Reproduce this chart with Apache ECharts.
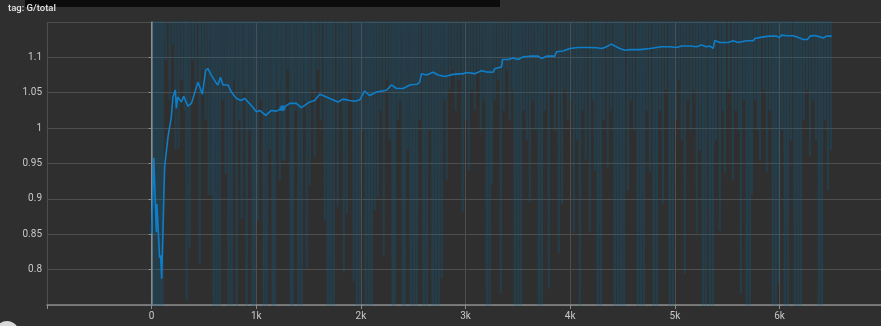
<!DOCTYPE html>
<html><head><meta charset="utf-8">
<script src="https://cdn.jsdelivr.net/npm/echarts@6/dist/echarts.min.js"></script>
<style>html,body{margin:0;padding:0;background:#2f2f2f;overflow:hidden}#c{width:881px;height:326px}</style>
</head><body><div id="c"></div>
<script>
const titleText = 'tag: G/total';
const yTicks = [0.8, 0.85, 0.9, 0.95, 1, 1.05, 1.1];
const xTickLabels = ['0', '1k', '2k', '3k', '4k', '5k', '6k'];

// smoothed curve
const smoothSteps = [0,21,45,50,76,86,96,124,156,188,204,226,236,249,284,306,347,380,443,485,516,539,570,612,634,657,682,730,762,810,858,889,953,1001,1033,1090,1144,1192,1250,1319,1383,1431,1510,1558,1606,1654,1702,1781,1829,1893,1941,1989,2036,2084,2148,2244,2292,2340,2403,2467,2537,2562,2578,2626,2690,2738,2801,2881,2977,3008,3088,3152,3200,3263,3279,3343,3353,3407,3455,3503,3550,3614,3693,3726,3774,3853,3869,3932,3996,4076,4171,4252,4300,4331,4394,4426,4474,4522,4570,4665,4681,4761,4809,4873,4952,5016,5064,5143,5207,5255,5303,5335,5366,5382,5430,5510,5557,5605,5637,5685,5749,5765,5845,5908,5972,5997,6020,6068,6131,6180,6227,6266,6291,6339,6386,6418,6450,6498];
const smoothValues = [0.851,0.958,0.853,0.893,0.817,0.82,0.787,0.945,0.987,1.016,1.044,1.054,1.028,1.044,1.037,1.045,1.031,1.035,1.065,1.048,1.082,1.084,1.075,1.065,1.061,1.072,1.061,1.061,1.051,1.042,1.039,1.042,1.032,1.023,1.025,1.018,1.025,1.024,1.028,1.035,1.035,1.029,1.037,1.039,1.048,1.045,1.042,1.037,1.041,1.039,1.038,1.04,1.0525,1.046,1.051,1.0535,1.061,1.056,1.056,1.061,1.062,1.065,1.077,1.075,1.079,1.075,1.073,1.076,1.077,1.0786,1.077,1.081,1.0795,1.079,1.084,1.0866,1.097,1.097,1.099,1.097,1.1007,1.1017,1.1017,1.0985,1.1017,1.1017,1.108,1.109,1.1126,1.114,1.114,1.1135,1.1126,1.114,1.1187,1.116,1.1126,1.11,1.111,1.111,1.1126,1.1126,1.1135,1.115,1.115,1.114,1.116,1.116,1.115,1.1174,1.115,1.116,1.1126,1.124,1.121,1.121,1.1234,1.121,1.122,1.1234,1.1234,1.1268,1.129,1.13,1.13,1.128,1.1315,1.1305,1.1305,1.128,1.1253,1.1253,1.13,1.131,1.129,1.1275,1.13,1.13];

// hovered point
const hoverPoint = [1250, 1.028];

// raw (unsmoothed) values: [step, value]; peaks lie far above the visible range
const rawPoints = [[10,.6],[24,3],[29,.6],[43,3],[48,.6],[62,3],[67,.6],[81,3],[86,.6],[100,3],[105,.6],[119,3],
[134,1.096],[148,3],[172,1.039],[186,3],[201,1.117],[215,3],[229,.969],[243,3],[258,.971],[272,3],
[287,1.068],[301,3],[315,1.025],[325,3],[335,.756],[349,3],[363,.83],[377,3],[392,1.096],[406,3],
[421,1.054],[435,3],[459,.808],[473,3],[488,1.082],[502,3],[516,1.011],[530,3],[545,.905],[559,3],
[574,.905],[584,3],[593,.6],[607,3],[621,.6],[635,3],[650,.6],[664,3],[679,1.039],[693,3],
[707,.936],[721,3],[736,.6],[750,3],[765,.6],[775,3],[784,1.068],[798,3],[813,.6],[827,3],
[841,1.011],[851,3],[860,.872],[874,3],[889,1.054],[899,3],[908,.6],[922,3],[937,.997],[951,3],
[966,.6],[976,3],[985,.6],[999,3],[1013,.869],[1027,3],[1042,1.039],[1056,3],[1071,.6],[1085,3],
[1099,.6],[1113,3],[1128,.969],[1142,3],[1157,.6],[1167,3],[1176,.6],[1190,3],[1205,1.054],[1215,3],
[1224,.926],[1238,3],[1252,.954],[1262,3],[1271,.954],[1285,3],[1300,1.082],[1314,3],[1329,.6],[1339,3],
[1348,.6],[1362,3],[1377,1.025],[1391,3],[1405,.6],[1419,3],[1434,.6],[1448,3],[1463,1.039],[1473,3],
[1482,.801],[1496,3],[1510,.919],[1524,3],[1539,1.054],[1549,3],[1558,.959],[1572,3],[1587,1.082],[1601,3],
[1616,1.011],[1630,3],[1654,.869],[1668,3],[1683,.6],[1697,3],[1711,.6],[1725,3],[1740,.6],[1754,3],
[1778,.888],[1792,3],[1807,1.039],[1821,3],[1836,.796],[1850,3],[1864,.879],[1878,3],[1893,1.054],[1907,3],
[1931,.784],[1945,3],[1960,.6],[1974,3],[1988,.6],[2002,3],[2017,.997],[2031,3],[2046,.6],[2060,3],
[2075,.6],[2089,3],[2103,.6],[2117,3],[2132,.884],[2146,3],[2161,.902],[2175,3],[2189,1.025],[2203,3],
[2218,.82],[2232,3],[2247,1.068],[2261,3],[2275,.983],[2289,3],[2304,.6],[2314,3],[2323,.6],[2337,3],
[2352,1.011],[2362,3],[2371,1.039],[2385,3],[2400,.6],[2410,3],[2419,.6],[2433,3],[2447,.969],[2461,3],
[2476,.6],[2490,3],[2505,.6],[2519,3],[2533,.6],[2547,3],[2562,1.011],[2576,3],[2600,.6],[2614,3],
[2629,.6],[2643,3],[2658,.997],[2672,3],[2686,.6],[2700,3],[2715,.6],[2729,3],[2744,.6],[2758,3],
[2772,.789],[2786,3],[2801,1.039],[2811,3],[2820,.926],[2834,3],[2849,1.054],[2863,3],[2878,1.082],[2892,3],
[2906,1.025],[2920,3],[2935,1.068],[2949,3],[2973,.881],[2987,3],[3002,1.011],[3016,3],[3031,.94],[3045,3],
[3059,1.054],[3073,3],[3088,1.025],[3102,3],[3117,1.082],[3131,3],[3145,.997],[3159,3],[3174,1.039],[3188,3],
[3203,.6],[3217,3],[3231,.6],[3241,3],[3250,.922],[3264,3],[3279,1.039],[3293,3],[3308,1.068],[3322,3],
[3336,.766],[3350,3],[3365,1.025],[3379,3],[3394,1.082],[3408,3],[3422,1.011],[3436,3],[3451,1.054],[3461,3],
[3470,.6],[3484,3],[3499,.6],[3513,3],[3528,.6],[3542,3],[3556,1.025],[3570,3],[3585,.983],[3599,3],
[3614,.895],[3628,3],[3642,1.039],[3656,3],[3671,.997],[3685,3],[3700,.6],[3714,3],[3728,.6],[3742,3],
[3757,1.025],[3771,3],[3795,.773],[3809,3],[3824,1.054],[3838,3],[3853,.997],[3867,3],[3891,.823],[3905,3],
[3920,.893],[3934,3],[3948,1.054],[3962,3],[3977,1.011],[3991,3],[4006,1.039],[4020,3],[4034,.852],[4048,3],
[4063,.983],[4077,3],[4092,.6],[4106,3],[4120,1.025],[4134,3],[4149,.954],[4163,3],[4187,.852],[4201,3],
[4216,1.039],[4226,3],[4235,.94],[4249,3],[4264,.6],[4278,3],[4292,.6],[4306,3],[4321,1.011],[4335,3],
[4359,.944],[4373,3],[4388,1.025],[4402,3],[4426,.6],[4440,3],[4455,.6],[4469,3],[4484,.6],[4498,3],
[4512,.6],[4526,3],[4551,.912],[4565,3],[4579,1.039],[4593,3],[4608,.997],[4622,3],[4646,.6],[4660,3],
[4675,.6],[4689,3],[4704,.6],[4718,3],[4732,1.025],[4746,3],[4761,.937],[4775,3],[4799,.6],[4813,3],
[4828,.6],[4842,3],[4857,1.025],[4871,3],[4885,.893],[4899,3],[4914,1.054],[4928,3],[4952,.6],[4966,3],
[4981,.6],[4995,3],[5010,1.011],[5024,3],[5038,1.068],[5052,3],[5067,.983],[5081,3],[5095,.794],[5109,3],
[5124,1.039],[5138,3],[5153,.997],[5167,3],[5182,1.054],[5196,3],[5210,.851],[5224,3],[5239,.969],[5253,3],
[5268,.6],[5282,3],[5296,.6],[5310,3],[5334,.6],[5348,3],[5363,.6],[5377,3],[5392,.983],[5406,3],
[5430,.855],[5444,3],[5459,1.025],[5469,3],[5478,.937],[5492,3],[5516,1.054],[5530,3],[5554,.926],[5568,3],
[5583,1.025],[5597,3],[5612,.997],[5622,3],[5631,.766],[5645,3],[5660,1.039],[5674,3],[5688,.6],[5702,3],
[5717,.6],[5727,3],[5736,.905],[5750,3],[5765,1.039],[5779,3],[5793,.997],[5803,3],[5812,.954],[5826,3],
[5850,1.054],[5864,3],[5879,.937],[5893,3],[5908,1.025],[5922,3],[5937,.6],[5951,3],[5965,.6],[5979,3],
[5994,.78],[6008,3],[6023,.997],[6037,3],[6051,.6],[6065,3],[6080,.6],[6094,3],[6109,.983],[6123,3],
[6147,.6],[6161,3],[6176,.6],[6190,3],[6204,.6],[6218,3],[6233,1.011],[6247,3],[6262,1.054],[6276,3],
[6290,.961],[6304,3],[6319,1.039],[6333,3],[6348,.983],[6362,3],[6377,.6],[6391,3],[6405,.6],[6419,3],
[6434,1.011],[6448,3],[6463,.912],[6477,3],[6491,.969],[6500,3]];

const smoothData = smoothSteps.map((s, i) => [s, smoothValues[i]]);

const chart = echarts.init(document.getElementById('c'), null, {renderer: 'canvas'});
const gridColor = '#4e4e4e';
const vColors = ['#4e4e4e', '#9a9a9a', '#4e4e4e', '#4e4e4e', '#4e4e4e', '#4e4e4e', '#4e4e4e', '#4e4e4e', '#4e4e4e', '#4e4e4e'];
chart.setOption({
  backgroundColor: '#2f2f2f',
  animation: false,
  textStyle: {fontFamily: 'Roboto'},
  grid: {left: 47, right: 0, top: 22, bottom: 21, containLabel: false},
  graphic: [
    {type: 'rect', shape: {x: 25, y: 0, width: 475, height: 7}, style: {fill: '#0c0c0c'}},
    {type: 'text', left: 8, top: 4, style: {text: titleText, fill: '#e6e6e6', font: '500 9.5px Roboto'}},
    {type: 'circle', shape: {cx: 7, cy: 333, r: 12}, style: {fill: '#d8d8d8'}}
  ],
  xAxis: {
    type: 'value', min: -1000, max: 6970, interval: 1000,
    axisLine: {show: true, onZero: false, lineStyle: {color: '#8c8c8c', width: 1.5}},
    axisTick: {show: true, length: 4, lineStyle: {color: '#8c8c8c'}},
    axisLabel: {color: '#c8c8c8', fontSize: 10, margin: 6, showMaxLabel: false,
      formatter: v => { if (v < 0) return ''; const i = Math.round(v / 1000); return xTickLabels[i] !== undefined && Math.abs(v - i * 1000) < 1 ? xTickLabels[i] : ''; }},
    splitLine: {show: true, lineStyle: {color: vColors, width: 1}}
  },
  yAxis: {
    type: 'value', min: 0.75, max: 1.15, interval: 0.05,
    axisLine: {show: true, lineStyle: {color: '#8c8c8c', width: 1.5}},
    axisTick: {show: true, length: 3, lineStyle: {color: '#8c8c8c'}},
    axisLabel: {color: '#c8c8c8', fontSize: 10, margin: 5, showMinLabel: false, showMaxLabel: false,
      formatter: v => { const r = +v.toFixed(2); return yTicks.some(t => Math.abs(t - r) < 1e-6) ? String(r) : ''; }},
    splitLine: {show: true, lineStyle: {color: gridColor, width: 1}}
  },
  series: [
    {type: 'line', data: rawPoints, symbol: 'none', clip: true, silent: true,
      lineStyle: {color: 'rgba(10,105,160,0.24)', width: 2.2}, z: 1},
    {type: 'line', data: smoothData, symbol: 'none', clip: true, silent: true,
      lineStyle: {color: '#0f7ec8', width: 1.6}, z: 3},
    {type: 'scatter', data: [hoverPoint], symbolSize: 6, itemStyle: {color: '#0f7ec8'}, z: 4, silent: true}
  ]
});
</script></body></html>
